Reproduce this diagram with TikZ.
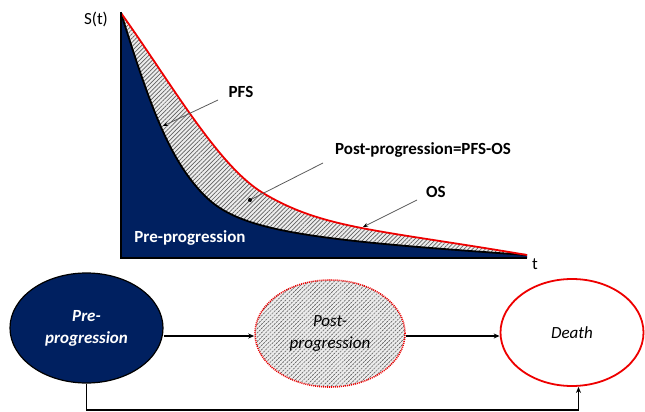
\documentclass[tikz,border=0pt]{standalone}
\usepackage{fontspec}
\setmainfont{Carlito}
\usetikzlibrary{shapes.geometric,arrows.meta,patterns.meta,calc}
\definecolor{navy}{RGB}{0,32,96}
\definecolor{osred}{RGB}{238,0,0}
\definecolor{ptrgray}{RGB}{90,90,90}
\begin{document}
\begin{tikzpicture}[x=1pt,y=-1pt,
  lbl/.style={font=\fontsize{17}{20}\selectfont\bfseries, inner sep=0pt},
  axlbl/.style={font=\fontsize{17}{20}\selectfont, inner sep=0pt},
  hatchfill/.style={preaction={fill=gray!14}, pattern={Lines[angle=45,distance=3pt,line width=0.7pt]}, pattern color=gray!75!black},
  ptr/.style={draw=ptrgray, line width=0.8pt, -{Stealth[black,length=5pt,width=4pt]}},
  ptrdot/.style={draw=ptrgray, line width=0.8pt, -{Circle[black,length=4.5pt]}},
  conn/.style={draw=black, line width=1.3pt, -{Stealth[length=6pt,width=5pt]}},
  state/.style={ellipse, inner sep=0pt, align=center, font=\fontsize{17}{22}\selectfont\itshape},
]
\useasboundingbox (0,0) rectangle (645,412);

% ---------- survival chart ----------
% area under OS (hatched), then area under PFS (navy)
\path[hatchfill] (121,13) .. controls (171,83) and (218,166) .. (263,193)
   .. controls (323,229) and (377,229.5) .. (527,255) -- (527,258) -- (121,258) -- cycle;
\fill[navy] (121,13) .. controls (151,109) and (170,161) .. (205,196)
   .. controls (240,231) and (307,240) .. (527,255) -- (527,258) -- (121,258) -- cycle;
% PFS curve
\draw[black, line width=1.8pt] (121,13) .. controls (151,109) and (170,161) .. (205,196)
   .. controls (240,231) and (307,240) .. (527,255);
% OS curve
\draw[osred, line width=1.8pt] (121,13) .. controls (171,83) and (218,166) .. (263,193)
   .. controls (323,229) and (377,229.5) .. (527,255);
% axes
\draw[black, line width=2.2pt] (121,12) -- (121,258) -- (527,258);

\node[axlbl] (st) at (96,19) {S(t)};
\node[axlbl] (tt) at (535,264) {t};

\node[lbl] (pfs) at (241,92) {PFS};
\node[lbl] (postlbl) at (423,150) {Post-progression=PFS-OS};
\node[lbl] (os) at (436,192) {OS};
\node[lbl, text=white] (prelbl) at (190,238) {Pre-progression};

\coordinate (pfsA) at (218,100);
\coordinate (pfsB) at (163,126);
\coordinate (postA) at (323,163);
\coordinate (postB) at (248,201);
\coordinate (osA) at (417,200);
\coordinate (osB) at (363,227);
\draw[ptr] (pfsA) -- (pfsB);
\draw[ptrdot] (postA) -- (postB);
\draw[ptr] (osA) -- (osB);

% ---------- state diagram ----------
\coordinate (arrY) at (0,336);
\coordinate (lowY) at (0,410);

\node[state, fill=navy, draw=black, line width=1.2pt, minimum width=153pt, minimum height=110pt, text=white, font=\fontsize{17}{22}\selectfont\bfseries\itshape] (pre) at (86.5,328) {Pre-\\progression};
\node[state, hatchfill, draw=osred, line width=1.6pt, dash pattern=on 1pt off 1pt, minimum width=150pt, minimum height=107pt] (post) at (330,333.5) {Post-\\progression};
\node[state, fill=white, draw=osred, line width=1.8pt, minimum width=143pt, minimum height=107pt] (death) at (572,332.5) {Death};

\draw[conn] (pre.south) -- (pre.south |- lowY) -| ([xshift=6.5pt]death.south);
\draw[conn] (pre.east |- arrY) -- (post.west |- arrY);
\draw[conn] (post.east |- arrY) -- (death.west |- arrY);
\end{tikzpicture}
\end{document}
